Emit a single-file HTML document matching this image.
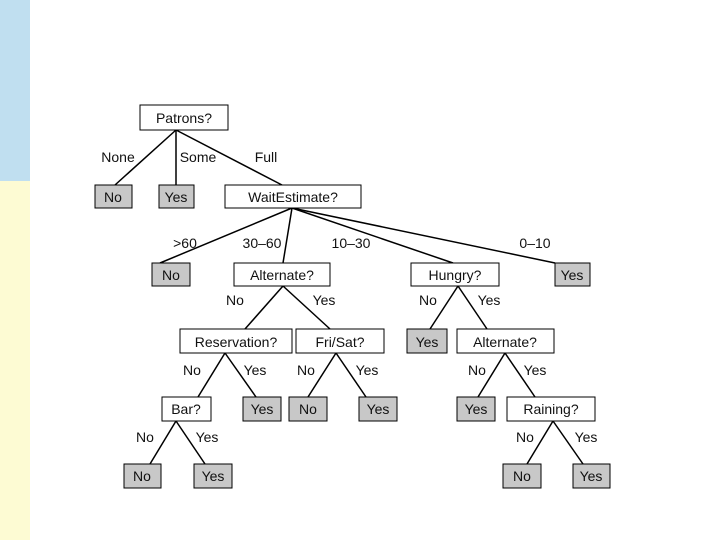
<!DOCTYPE html>
<html><head><style>
html,body{margin:0;padding:0;width:720px;height:540px;background:#fff;overflow:hidden}
svg text{font-family:"Liberation Sans",sans-serif;font-size:14px;fill:#111}
</style></head><body>
<svg width="720" height="540" viewBox="0 0 720 540" xmlns="http://www.w3.org/2000/svg">
<rect x="0" y="0" width="30" height="181" fill="#c0dff0"/>
<rect x="0" y="181" width="30" height="359" fill="#fdfbd3"/>
<g stroke="#000" stroke-width="1.5" fill="none">
<line x1="176" y1="130" x2="115" y2="185"/>
<line x1="176" y1="130" x2="176" y2="185"/>
<line x1="176" y1="130" x2="282" y2="185"/>
<line x1="292" y1="208" x2="160" y2="263"/>
<line x1="292" y1="208" x2="283" y2="263"/>
<line x1="292" y1="208" x2="453" y2="263"/>
<line x1="292" y1="208" x2="555" y2="263"/>
<line x1="283" y1="286" x2="245" y2="329"/>
<line x1="283" y1="286" x2="330" y2="329"/>
<line x1="458" y1="286" x2="430" y2="329"/>
<line x1="458" y1="286" x2="487" y2="329"/>
<line x1="225" y1="353" x2="198" y2="397"/>
<line x1="225" y1="353" x2="256" y2="397"/>
<line x1="336" y1="353" x2="308" y2="397"/>
<line x1="336" y1="353" x2="366" y2="397"/>
<line x1="505" y1="353" x2="478" y2="397"/>
<line x1="505" y1="353" x2="535" y2="397"/>
<line x1="176" y1="421" x2="150" y2="464"/>
<line x1="176" y1="421" x2="205" y2="464"/>
<line x1="553" y1="421" x2="527" y2="464"/>
<line x1="553" y1="421" x2="583" y2="464"/>
</g>
<g stroke="#000" stroke-width="1">
<rect x="140" y="105" width="88" height="25" fill="#fff"/>
<rect x="95" y="185" width="37" height="23" fill="#c8c8c8"/>
<rect x="159" y="185" width="35" height="23" fill="#c8c8c8"/>
<rect x="225" y="185" width="136" height="23" fill="#fff"/>
<rect x="152" y="263" width="38" height="23" fill="#c8c8c8"/>
<rect x="234" y="263" width="96" height="23" fill="#fff"/>
<rect x="411" y="263" width="88" height="23" fill="#fff"/>
<rect x="555" y="263" width="35" height="23" fill="#c8c8c8"/>
<rect x="180" y="329" width="112" height="24" fill="#fff"/>
<rect x="296" y="329" width="88" height="24" fill="#fff"/>
<rect x="407" y="329" width="40" height="24" fill="#c8c8c8"/>
<rect x="457" y="329" width="97" height="24" fill="#fff"/>
<rect x="162" y="397" width="49" height="24" fill="#fff"/>
<rect x="243" y="397" width="38" height="24" fill="#c8c8c8"/>
<rect x="289" y="397" width="38" height="24" fill="#c8c8c8"/>
<rect x="359" y="397" width="38" height="24" fill="#c8c8c8"/>
<rect x="457" y="397" width="38" height="24" fill="#c8c8c8"/>
<rect x="507" y="397" width="88" height="24" fill="#fff"/>
<rect x="124" y="464" width="37" height="24" fill="#c8c8c8"/>
<rect x="194" y="464" width="38" height="24" fill="#c8c8c8"/>
<rect x="503" y="464" width="38" height="24" fill="#c8c8c8"/>
<rect x="573" y="464" width="37" height="24" fill="#c8c8c8"/>
</g>
<g text-anchor="middle">
<text x="184" y="123">Patrons?</text>
<text x="113" y="202">No</text>
<text x="176" y="202">Yes</text>
<text x="293" y="202">WaitEstimate?</text>
<text x="171" y="280">No</text>
<text x="282" y="280">Alternate?</text>
<text x="455" y="280">Hungry?</text>
<text x="572" y="280">Yes</text>
<text x="236" y="347">Reservation?</text>
<text x="340" y="347">Fri/Sat?</text>
<text x="427" y="347">Yes</text>
<text x="505" y="347">Alternate?</text>
<text x="186" y="414">Bar?</text>
<text x="262" y="414">Yes</text>
<text x="308" y="414">No</text>
<text x="378" y="414">Yes</text>
<text x="476" y="414">Yes</text>
<text x="551" y="414">Raining?</text>
<text x="142" y="481">No</text>
<text x="213" y="481">Yes</text>
<text x="522" y="481">No</text>
<text x="591" y="481">Yes</text>
<text x="118" y="162">None</text>
<text x="198" y="162">Some</text>
<text x="266" y="162">Full</text>
<text x="185" y="248">&gt;60</text>
<text x="262" y="248">30–60</text>
<text x="351" y="248">10–30</text>
<text x="535" y="248">0–10</text>
<text x="235" y="305">No</text>
<text x="324" y="305">Yes</text>
<text x="428" y="305">No</text>
<text x="489" y="305">Yes</text>
<text x="192" y="375">No</text>
<text x="255" y="375">Yes</text>
<text x="306" y="375">No</text>
<text x="367" y="375">Yes</text>
<text x="477" y="375">No</text>
<text x="535" y="375">Yes</text>
<text x="145" y="442">No</text>
<text x="207" y="442">Yes</text>
<text x="525" y="442">No</text>
<text x="586" y="442">Yes</text>
</g>
</svg>
</body></html>
